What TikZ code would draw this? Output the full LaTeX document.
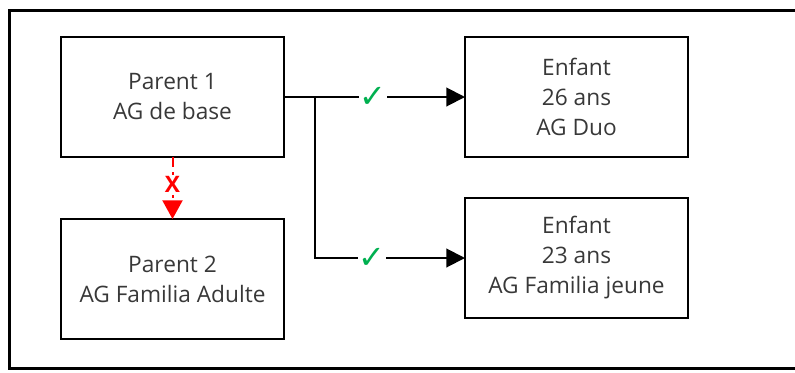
\documentclass[tikz,border=0pt]{standalone}
\usepackage{fontspec}
\setmainfont{Open Sans}
\newfontfamily\symfont{DejaVu Sans}
\usetikzlibrary{positioning,calc,arrows.meta}
\definecolor{chkgreen}{RGB}{0,176,80}
\tikzset{pbox/.style={draw, line width=1.5pt, minimum width=167.25pt, minimum height=90pt, inner sep=0pt, outer sep=0pt, align=center, text=black!78, font=\fontsize{17}{22.5}\selectfont}}
\tikzset{arrk/.style={draw, line width=1.5pt, -{Triangle[length=14pt,width=14pt]}}}
\tikzset{arrx/.style={draw=red, line width=1.5pt, dash pattern=on 7.5pt off 4pt, -{Triangle[length=14pt,width=15pt]}}}
\tikzset{chk/.style={fill=white, text=chkgreen, inner sep=0.5pt, font=\symfont\fontsize{24}{24}\selectfont}}
\tikzset{xmk/.style={fill=white, text=red, inner sep=1.5pt, font=\bfseries\fontsize{17}{17}\selectfont}}

\begin{document}
\begin{tikzpicture}[x=0.75pt, y=-0.75pt]
			\useasboundingbox (0,0) rectangle (795,372);
			% outer frame
			\draw[line width=2.25pt] (9.5,10.5) rectangle (820,368.5);
			\node[pbox] (P1) at (172.5,97) {Parent 1\\AG de base};
			\node[pbox, below=46.5pt of P1] (P2) {Parent 2\\AG Familia Adulte};
			\node[pbox, right=135.75pt of P1] (E1) {Enfant\\26 ans\\AG Duo};
			\node[pbox, below=30.75pt of E1] (E2) {Enfant\\23 ans\\AG Familia jeune};
			\coordinate (B) at ($ (P1.east) + (23.25pt,0) $);
%
			\draw[arrk] (P1.east) -- node[chk, pos=0.49]{✓} (E1.west);
			\draw[arrk] (B) |- node[chk, pos=0.69]{✓} (E2.west);
			\draw[arrx] (P1.south) -- node[xmk, pos=0.45]{X} (P2.north);
		\end{tikzpicture}
\end{document}
